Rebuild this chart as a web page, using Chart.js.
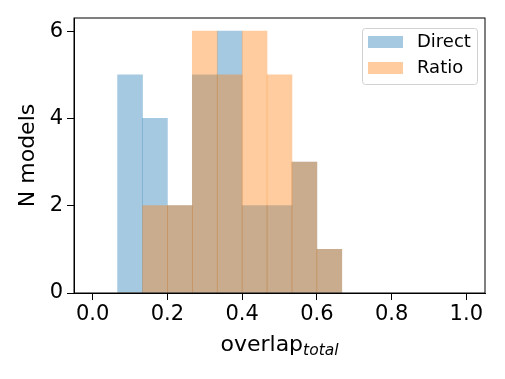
<!DOCTYPE html>
<html>
<head>
<meta charset="utf-8">
<script src="https://cdn.jsdelivr.net/npm/chart.js@4/dist/chart.umd.min.js"></script>
<style>
  html, body { margin: 0; padding: 0; background: #fff; }
  #wrap { width: 505px; height: 379px; }
</style>
</head>
<body>
<div id="wrap"><canvas id="hist"></canvas></div>
<script>
// histogram bins (15 bins over 0..1, only the filled ones)
const binEdges = [1/15, 2/15, 3/15, 4/15, 5/15, 6/15, 7/15, 8/15, 9/15, 10/15];
const directCounts = [5, 4, 2, 5, 6, 2, 2, 3, 1];
const ratioCounts = [0, 2, 2, 6, 5, 6, 5, 3, 1];
const xTicks = [0.0, 0.2, 0.4, 0.6, 0.8, 1.0];
const yTicks = [0, 2, 4, 6];

const FONT = "'DejaVu Sans', sans-serif";

function toBars(counts) {
  return counts.map((c, i) => ({ x: (binEdges[i] + binEdges[i + 1]) / 2, y: c }));
}

// axes box, legend and x label drawn like matplotlib
const framePlugin = {
  id: "frame",
  afterDraw(chart) {
    const { ctx, chartArea: a } = chart;
    ctx.save();
    ctx.strokeStyle = "#000";
    ctx.lineWidth = 1;
    ctx.strokeRect(a.left, a.top, a.right - a.left, a.bottom - a.top);

    // legend
    const lx = 362, ly = 28, lw = 115, lh = 56;
    ctx.fillStyle = "rgba(255,255,255,0.8)";
    ctx.strokeStyle = "#d0d0d0";
    ctx.beginPath();
    ctx.roundRect(lx + 0.5, ly + 0.5, lw, lh, 3);
    ctx.fill();
    ctx.stroke();
    chart.data.datasets.forEach((ds, i) => {
      const y = 36 + i * 26;
      ctx.fillStyle = ds.backgroundColor;
      ctx.fillRect(368, y, 35, 12);
      ctx.fillStyle = "#000";
      ctx.font = "18px " + FONT;
      ctx.textBaseline = "middle";
      ctx.fillText(ds.label, 417, y + 6);
    });

    // x label with subscript
    const cx = (a.left + a.right) / 2;
    ctx.font = "22px " + FONT;
    const w1 = ctx.measureText("overlap").width;
    ctx.font = "italic 15.5px " + FONT;
    const w2 = ctx.measureText("total").width;
    const x0 = cx - (w1 + w2) / 2;
    ctx.textBaseline = "alphabetic";
    ctx.fillStyle = "#000";
    ctx.font = "22px " + FONT;
    ctx.fillText("overlap", x0, 351);
    ctx.font = "italic 15.5px " + FONT;
    ctx.fillText("total", x0 + w1, 354.5);
    ctx.restore();
  },
};

new Chart(document.getElementById("hist"), {
  type: "bar",
  data: {
    datasets: [
      {
        label: "Direct",
        data: toBars(directCounts),
        backgroundColor: "rgba(31,119,180,0.4)",
        borderWidth: 0,
        order: 1,
      },
      {
        label: "Ratio",
        data: toBars(ratioCounts),
        backgroundColor: "rgba(255,127,14,0.4)",
        borderWidth: 0,
        order: 0,
      },
    ],
  },
  options: {
    responsive: true,
    maintainAspectRatio: false,
    animation: false,
    grouped: false,
    barPercentage: 1,
    categoryPercentage: 1,
    layout: { padding: { left: 15, right: 20, top: 18, bottom: 0 } },
    plugins: {
      legend: { display: false },
      tooltip: { enabled: false },
    },
    scales: {
      x: {
        type: "linear",
        min: -0.05,
        max: 1.05,
        offset: false,
        afterBuildTicks: (s) => { s.ticks = xTicks.map((v) => ({ value: v })); },
        afterFit: (s) => { s.height = 86; },
        grid: { offset: false, drawOnChartArea: false, drawTicks: true, tickLength: 7, color: "#000" },
        border: { display: true, color: "#000" },
        ticks: {
          color: "#000",
          font: { family: FONT, size: 21 },
          padding: 2,
          maxRotation: 0,
          callback: (v) => Number(v).toFixed(1),
        },
      },
      y: {
        min: 0,
        max: 6.3,
        afterBuildTicks: (s) => { s.ticks = yTicks.map((v) => ({ value: v })); },
        afterFit: (s) => { s.width = 59; },
        grid: { drawOnChartArea: false, drawTicks: true, tickLength: 7, color: "#000" },
        border: { display: true, color: "#000" },
        ticks: {
          color: "#000",
          font: { family: FONT, size: 21 },
          padding: 4,
        },
        title: {
          display: true,
          text: "N models",
          color: "#000",
          font: { family: FONT, size: 22 },
          padding: { top: 0, bottom: 0 },
        },
      },
    },
  },
  plugins: [framePlugin],
});
</script>
</body>
</html>
